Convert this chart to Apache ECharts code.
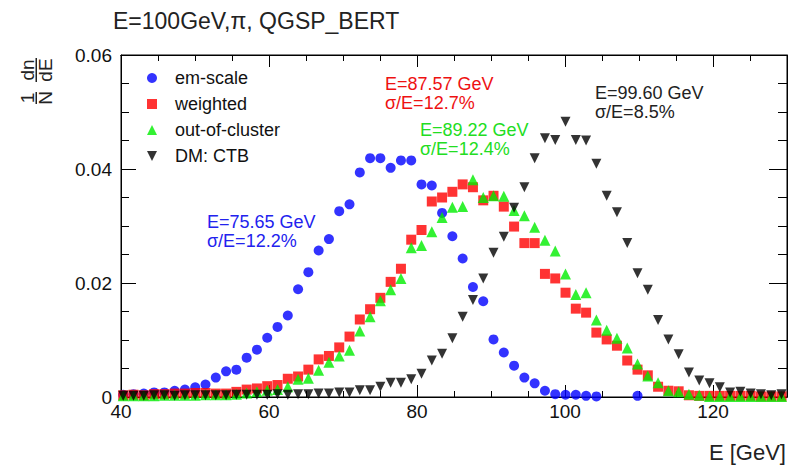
<!DOCTYPE html>
<html>
<head>
<meta charset="utf-8">
<script src="https://cdn.jsdelivr.net/npm/echarts@6/dist/echarts.min.js"></script>
<style>html,body{margin:0;padding:0;background:#fff}#c{width:807px;height:466px}</style>
</head>
<body>
<div id="c"></div>
<script>
// bin centres (GeV)
const binCenters = [40.30,41.69,43.08,44.47,45.86,47.25,48.64,50.03,51.42,52.81,54.20,55.59,56.98,58.37,59.76,61.15,62.54,63.93,65.32,66.71,68.10,69.49,70.88,72.27,73.66,75.05,76.44,77.83,79.22,80.61,82.00,83.39,84.78,86.17,87.56,88.95,90.34,91.73,93.12,94.51,95.90,97.29,98.68,100.07,101.46,102.85,104.24,105.63,107.02,108.41,109.80,111.19,112.58,113.97,115.36,116.75,118.14,119.53,120.92,122.31,123.70,125.09,126.48,127.87,129.26];

const emScale = [0.0004,0.0005,0.0006,0.0008,0.0008,0.0011,0.0013,0.0017,0.0022,0.0034,0.0045,0.0048,0.0069,0.0083,0.0104,0.0123,0.0143,0.0189,0.0219,0.0257,0.0277,0.0326,0.0338,0.0394,0.0419,0.0419,0.0402,0.0415,0.0415,0.0373,0.0371,0.0323,0.0282,0.0243,0.0193,0.0168,0.0101,0.0078,0.0055,0.0034,0.0024,0.0011,0.0005,0.0004,0.0004,0.0002,0.0001,null,null,null,0.0002,null,null,null,null,null,null,null,null,null,null,null,null,null,null];

const weighted = [0.0003,0.0004,0.0003,0.0005,0.0005,0.0006,0.0006,0.0007,0.0007,0.0006,0.0006,0.0009,0.0013,0.0015,0.0019,0.0021,0.0032,0.0036,0.0048,0.0066,0.0072,0.0087,0.0106,0.0136,0.0154,0.0174,0.0202,0.0225,0.0276,0.0293,0.0343,0.0350,0.0360,0.0373,0.0368,0.0345,0.0353,0.0334,0.0299,0.0270,0.0270,0.0216,0.0208,0.0183,0.0155,0.0148,0.0113,0.0101,0.0090,0.0064,0.0048,0.0038,0.0018,0.0011,0.0010,0.0003,0.0002,0.0002,0.0002,0.0002,0.0002,0.0002,0.0001,0.0001,0.0001];

const outOfCluster = [0.0002,0.0002,0.0002,0.0002,0.0003,0.0003,0.0003,0.0003,0.0004,0.0004,0.0004,0.0005,0.0007,0.0009,0.0012,0.0013,0.0018,0.0031,0.0033,0.0047,0.0061,0.0072,0.0082,0.0116,0.0141,0.0169,0.0188,0.0208,0.0262,0.0266,0.0290,0.0315,0.0333,0.0334,0.0381,0.0350,0.0353,0.0352,0.0327,0.0318,0.0298,0.0275,0.0256,0.0216,0.0180,0.0183,0.0135,0.0117,0.0103,0.0086,0.0058,0.0037,0.0025,0.0011,0.0009,0.0005,0.0003,0.0001,0.0001,0.0001,0.0001,0.0001,0.0001,0.0001,0.0001];

const dmCtb = [0.0002,0.0002,0.0002,0.0003,0.0003,0.0002,0.0003,0.0003,0.0003,0.0003,0.0003,0.0004,0.0004,0.0004,0.0004,0.0005,0.0004,0.0005,0.0005,0.0006,0.0006,0.0008,0.0008,0.0012,0.0012,0.0018,0.0025,0.0025,0.0031,0.0041,0.0064,0.0076,0.0103,0.0141,0.0170,0.0208,0.0253,0.0281,0.0332,0.0368,0.0419,0.0454,0.0451,0.0483,0.0451,0.0450,0.0409,0.0353,0.0324,0.0270,0.0217,0.0188,0.0135,0.0101,0.0075,0.0043,0.0029,0.0024,0.0017,0.0008,0.0009,0.0006,0.0005,0.0003,0.0005];

const seriesNames = ['em-scale','weighted','out-of-cluster','DM: CTB'];
const xTickLabels = {40:'40',60:'60',80:'80',100:'100',120:'120'};
const yTickLabels = {0:'0',0.02:'0.02',0.04:'0.04',0.06:'0.06'};

const FONT = 'Liberation Sans, Arial, Helvetica, sans-serif';
const invTri = 'path://M0,0L10,0L5,10Z';

function pairs(arr){ return binCenters.map((x,i)=> arr[i]==null ? null : [x, arr[i]]).filter(p=>p); }

const chart = echarts.init(document.getElementById('c'), null, {renderer:'svg'});

function ls(){ return {color:'#000', width:1, type:'solid', opacity:1}; }

function xAxisDef(pos, interval, len, labels){
  return {type:'value', min:40, max:130, interval:interval, position:pos, gridIndex:0,
    splitLine:{show:false},
    axisLine:{show:true, onZero:false, lineStyle:ls()},
    axisTick:{show:true, inside:true, length:len, lineStyle:ls()},
    minorTick:{show:false},
    axisLabel:{show:labels, fontSize:19, fontFamily:FONT, color:'#111', margin:5,
      showMaxLabel:false,
      formatter:v=> xTickLabels[v] !== undefined ? xTickLabels[v] : ''}};
}
function yAxisDef(pos, majLen, minLen, labels){
  return {type:'value', min:0, max:0.06, interval:0.02, position:pos, gridIndex:0,
    splitLine:{show:false},
    axisLine:{show:true, onZero:false, lineStyle:ls()},
    axisTick:{show:true, inside:true, length:majLen, lineStyle:ls()},
    minorTick:{show:true, splitNumber:4, length:minLen, lineStyle:ls()},
    axisLabel:{show:labels, fontSize:19, fontFamily:FONT, color:'#111', margin:9,
      formatter:v=> yTickLabels[v] !== undefined ? yTickLabels[v] : String(v)}};
}

const option = {
  backgroundColor:'#fff',
  animation:false,
  grid:{left:121, right:20, top:55, bottom:69, containLabel:false, show:true, borderColor:'#000', borderWidth:1, backgroundColor:'transparent'},
  xAxis:[
    xAxisDef('bottom', 20, 12, true),
    xAxisDef('bottom', 5, 6, false),
    xAxisDef('top', 20, 12, false),
    xAxisDef('top', 5, 6, false)
  ],
  yAxis:[
    yAxisDef('left', 15, 8, true),
    yAxisDef('right', 18, 9, false)
  ],
  legend:{
    orient:'vertical', left:142, top:64, itemGap:8, itemWidth:10, itemHeight:10,
    textStyle:{fontSize:18, fontFamily:FONT, color:'#111', lineHeight:18, padding:[0,0,0,13]},
    data:[
      {name:seriesNames[0], icon:'circle', itemStyle:{color:'#0000ff'}},
      {name:seriesNames[1], icon:'rect', itemStyle:{color:'#ff0000'}},
      {name:seriesNames[2], icon:'triangle', itemStyle:{color:'#00ee00'}},
      {name:seriesNames[3], icon:invTri, itemStyle:{color:'#000'}}
    ]
  },
  series:[
    {name:seriesNames[0], type:'scatter', xAxisIndex:0, yAxisIndex:0, symbol:'circle', symbolSize:10,
      itemStyle:{color:'#0000ff'}, data:pairs(emScale)},
    {name:seriesNames[1], type:'scatter', xAxisIndex:0, yAxisIndex:0, symbol:'rect', symbolSize:10,
      itemStyle:{color:'#ff0000'}, data:pairs(weighted)},
    {name:seriesNames[2], type:'scatter', xAxisIndex:0, yAxisIndex:0, symbol:'triangle', symbolSize:11,
      itemStyle:{color:'#00ee00'}, data:pairs(outOfCluster)},
    {name:seriesNames[3], type:'scatter', xAxisIndex:0, yAxisIndex:0, symbol:invTri, symbolSize:10,
      itemStyle:{color:'#000'}, data:pairs(dmCtb)}
  ],
  graphic:[
    {type:'text', x:113, y:21, style:{text:'E=100GeV,\u03c0, QGSP_BERT', fontSize:23, fontFamily:FONT, fill:'#222', align:'left', verticalAlign:'middle'}},
    {type:'text', x:786, y:452, style:{text:'E [GeV]', fontSize:22, fontFamily:FONT, fill:'#222', align:'right', verticalAlign:'middle'}},
    {type:'group', x:35, y:80, rotation:Math.PI/2, children:[
      {type:'text', x:-18, y:-8, style:{text:'1', fontSize:19, fontFamily:FONT, fill:'#222', align:'center', verticalAlign:'middle'}},
      {type:'text', x:-18, y:10, style:{text:'N', fontSize:19, fontFamily:FONT, fill:'#222', align:'center', verticalAlign:'middle'}},
      {type:'rect', shape:{x:-24, y:0.5, width:12, height:1.5}, style:{fill:'#222'}},
      {type:'text', x:10, y:-8, style:{text:'dn', fontSize:19, fontFamily:FONT, fill:'#222', align:'center', verticalAlign:'middle'}},
      {type:'text', x:10, y:10, style:{text:'dE', fontSize:19, fontFamily:FONT, fill:'#222', align:'center', verticalAlign:'middle'}},
      {type:'rect', shape:{x:-2, y:0.5, width:24, height:1.5}, style:{fill:'#222'}}
    ]},
    {type:'text', x:385, y:84, style:{text:'E=87.57 GeV', fontSize:18, fontFamily:FONT, fill:'#ee1111', verticalAlign:'middle'}},
    {type:'text', x:385, y:103, style:{text:'\u03c3/E=12.7%', fontSize:18, fontFamily:FONT, fill:'#ee1111', verticalAlign:'middle'}},
    {type:'text', x:420, y:130, style:{text:'E=89.22 GeV', fontSize:18, fontFamily:FONT, fill:'#22dd22', verticalAlign:'middle'}},
    {type:'text', x:420, y:149, style:{text:'\u03c3/E=12.4%', fontSize:18, fontFamily:FONT, fill:'#22dd22', verticalAlign:'middle'}},
    {type:'text', x:595, y:93, style:{text:'E=99.60 GeV', fontSize:18, fontFamily:FONT, fill:'#222', verticalAlign:'middle'}},
    {type:'text', x:595, y:112, style:{text:'\u03c3/E=8.5%', fontSize:18, fontFamily:FONT, fill:'#222', verticalAlign:'middle'}},
    {type:'text', x:207, y:222, style:{text:'E=75.65 GeV', fontSize:18, fontFamily:FONT, fill:'#2222ee', verticalAlign:'middle'}},
    {type:'text', x:207, y:241, style:{text:'\u03c3/E=12.2%', fontSize:18, fontFamily:FONT, fill:'#2222ee', verticalAlign:'middle'}}
  ]
};
chart.setOption(option);
</script>
</body>
</html>
